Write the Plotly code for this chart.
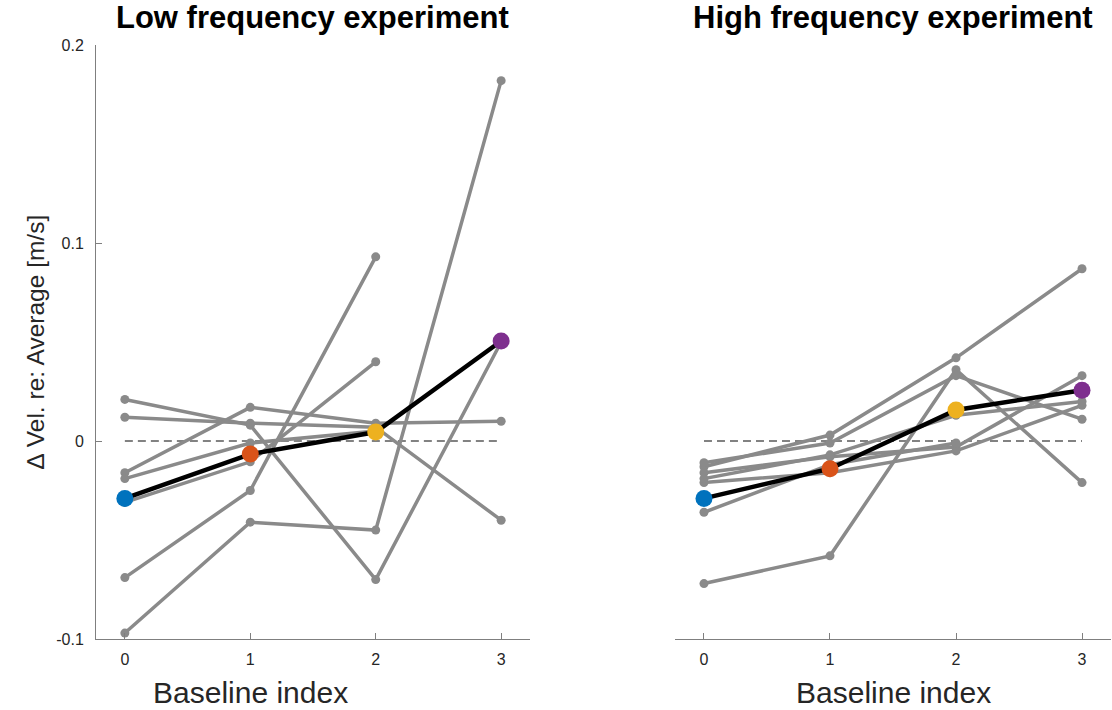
import plotly.graph_objects as go

# Baseline indices shared by both experiments
baseline_index = [0, 1, 2, 3]
tick_labels_x = ["0", "1", "2", "3"]
y_ticks = [-0.1, 0.0, 0.1, 0.2]
y_tick_labels = ["-0.1", "0", "0.1", "0.2"]

# Low frequency experiment: per-subject velocity change (m/s)
low_s1 = [0.021, 0.008, -0.070, 0.050]
low_s2 = [0.012, 0.009, 0.007, -0.040]
low_s3 = [-0.016, 0.017, 0.009, 0.010]
low_s4 = [-0.019, -0.001, 0.005, None]
low_s5 = [-0.031, -0.0105, 0.040, None]
low_s6 = [-0.069, -0.025, 0.093, None]
low_s7 = [-0.097, -0.041, -0.045, 0.182]
low_mean = [-0.029, -0.0066, 0.0045, 0.0505]

# High frequency experiment: per-subject velocity change (m/s)
high_s1 = [-0.013, 0.003, 0.042, 0.087]
high_s2 = [-0.072, -0.058, 0.036, -0.021]
high_s3 = [-0.011, -0.001, 0.033, 0.011]
high_s4 = [-0.016, -0.008, -0.003, 0.033]
high_s5 = [-0.021, -0.016, -0.005, 0.018]
high_s6 = [-0.019, -0.007, 0.013, 0.020]
high_s7 = [-0.036, -0.012, -0.001, None]
high_mean = [-0.029, -0.014, 0.0157, 0.0256]

low_subjects = [low_s1, low_s2, low_s3, low_s4, low_s5, low_s6, low_s7]
high_subjects = [high_s1, high_s2, high_s3, high_s4, high_s5, high_s6, high_s7]

mean_colors = ["#0072BD", "#D95319", "#EDB120", "#7E2F8E"]
subject_gray = "#8a8a8a"
axis_gray = "#7f7f7f"
text_dark = "#262626"
FONT = "Liberation Sans, Arial, Helvetica, sans-serif"

W, H = 1112, 710
fig = go.Figure()


def add_panel(subjects, means, xa, ya):
    # zero reference line across the baseline range
    fig.add_trace(go.Scatter(
        x=[baseline_index[0], baseline_index[-1]], y=[0, 0],
        mode="lines", xaxis=xa, yaxis=ya, hoverinfo="skip",
        line=dict(color="#595959", width=1.3, dash="8px,5px"),
        showlegend=False))
    for s in subjects:
        fig.add_trace(go.Scatter(
            x=baseline_index, y=s, mode="lines+markers",
            xaxis=xa, yaxis=ya, showlegend=False,
            line=dict(color=subject_gray, width=3.5),
            marker=dict(color=subject_gray, size=9)))
    fig.add_trace(go.Scatter(
        x=baseline_index, y=means, mode="lines+markers",
        xaxis=xa, yaxis=ya, showlegend=False,
        line=dict(color="black", width=4.5),
        marker=dict(color=mean_colors, size=17, line=dict(width=0))))


add_panel(low_subjects, low_mean, "x", "y")
add_panel(high_subjects, high_mean, "x2", "y2")

x_dom1 = [96 / W, 530 / W]
x_dom2 = [675 / W, 1111 / W]
y_dom = [1 - 639 / H, 1 - 45 / H]

xaxis_common = dict(
    range=[-0.23, 3.23], tickvals=baseline_index, ticktext=tick_labels_x,
    ticks="inside", ticklen=6, tickcolor=axis_gray, tickwidth=1,
    showline=True, linecolor=axis_gray, linewidth=1, showgrid=False,
    zeroline=False, automargin=False,
    tickfont=dict(family=FONT, size=16, color=text_dark),
    ticklabelstandoff=6)

fig.update_layout(
    width=W, height=H,
    margin=dict(l=0, r=0, t=0, b=0, pad=0, autoexpand=False),
    paper_bgcolor="white", plot_bgcolor="white",
    xaxis=dict(domain=x_dom1, anchor="y", **xaxis_common),
    xaxis2=dict(domain=x_dom2, anchor="y2", **xaxis_common),
    yaxis=dict(domain=y_dom, anchor="x", range=[-0.1, 0.2],
               tickvals=y_ticks, ticktext=y_tick_labels,
               ticks="inside", ticklen=6, tickcolor=axis_gray,
               showline=True, linecolor=axis_gray, linewidth=1,
               showgrid=False, zeroline=False, ticklabelstandoff=8,
               automargin=False,
               tickfont=dict(family=FONT, size=16, color=text_dark)),
    yaxis2=dict(domain=y_dom, anchor="x2", range=[-0.1, 0.2],
                showline=False, showticklabels=False, ticks="",
                showgrid=False, zeroline=False, automargin=False),
)

annotations = [
    dict(text="<b>Low frequency experiment</b>", x=(x_dom1[0] + x_dom1[1]) / 2,
         y=1 - 18 / H, xref="paper", yref="paper", showarrow=False,
         xanchor="center", yanchor="middle",
         font=dict(family=FONT, size=31, color="black")),
    dict(text="<b>High frequency experiment</b>", x=(x_dom2[0] + x_dom2[1]) / 2,
         y=1 - 18 / H, xref="paper", yref="paper", showarrow=False,
         xanchor="center", yanchor="middle",
         font=dict(family=FONT, size=31, color="black")),
    dict(text="Baseline index", x=250 / W,
         y=1 - 692 / H, xref="paper", yref="paper", showarrow=False,
         xanchor="center", yanchor="middle",
         font=dict(family=FONT, size=30, color=text_dark)),
    dict(text="Baseline index", x=(x_dom2[0] + x_dom2[1]) / 2,
         y=1 - 692 / H, xref="paper", yref="paper", showarrow=False,
         xanchor="center", yanchor="middle",
         font=dict(family=FONT, size=30, color=text_dark)),
    dict(text="\u2206 Vel. re: Average [m/s]", x=35 / W,
         y=(y_dom[0] + y_dom[1]) / 2, xref="paper", yref="paper",
         showarrow=False, textangle=-90, xanchor="center", yanchor="middle",
         font=dict(family=FONT, size=24.5, color=text_dark)),
]
fig.update_layout(annotations=annotations)

fig.write_html("out.html")
